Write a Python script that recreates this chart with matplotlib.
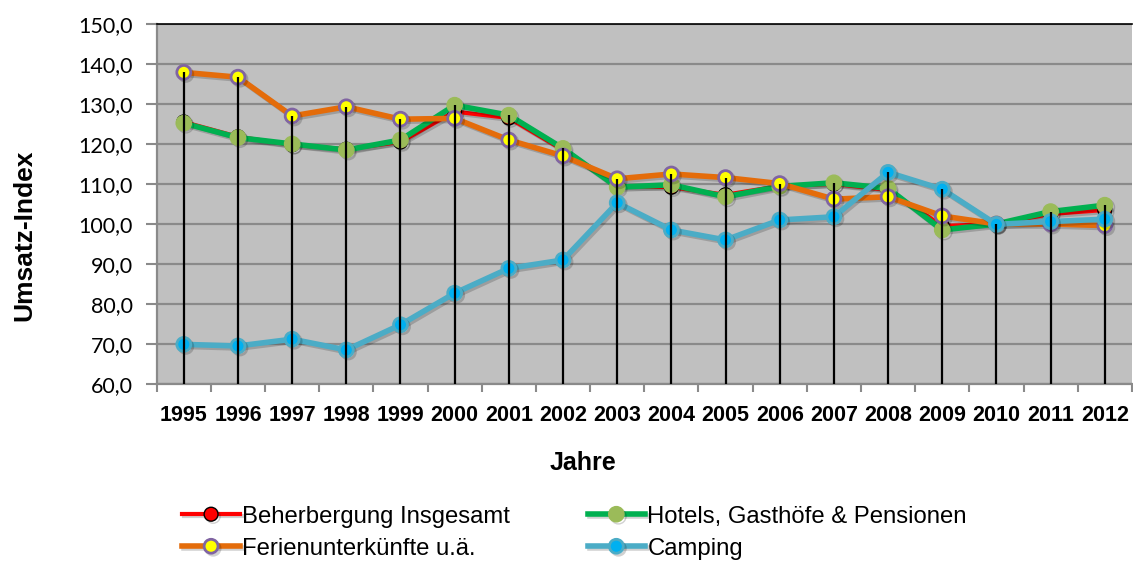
import matplotlib
matplotlib.use('Agg')
import matplotlib.pyplot as plt
import matplotlib.patheffects as pe
import numpy as np

years = ['1995', '1996', '1997', '1998', '1999', '2000', '2001', '2002', '2003',
         '2004', '2005', '2006', '2007', '2008', '2009', '2010', '2011', '2012']

beherbergung = [125.5, 121.8, 119.8, 118.7, 120.5, 128.1, 126.5, 118.5, 109.5,
                109.2, 107.3, 109.5, 110.0, 108.5, 99.5, 100.0, 102.5, 103.5]
hotels = [125.2, 121.6, 120.0, 118.5, 121.0, 129.7, 127.2, 118.9, 109.2,
          109.8, 106.8, 109.4, 110.3, 108.9, 98.5, 100.0, 103.1, 104.7]
ferien = [137.9, 136.7, 127.0, 129.3, 126.2, 126.4, 121.0, 117.0, 111.3,
          112.5, 111.6, 110.1, 106.2, 106.8, 102.0, 100.0, 100.0, 99.6]
camping = [69.9, 69.5, 71.2, 68.5, 74.8, 82.7, 88.9, 91.0, 105.3,
           98.5, 96.0, 101.0, 101.8, 112.9, 108.7, 99.9, 100.6, 101.2]

x = np.arange(len(years))

fig = plt.figure(figsize=(11.33, 5.63), dpi=100)
ax = fig.add_axes([0.1383, 0.318, 0.8607, 0.6394])
ax.set_facecolor('#C0C0C0')

shadow = [pe.SimpleLineShadow(offset=(1.5, -1.5), alpha=0.18, shadow_color='k'), pe.Normal()]

l1, = ax.plot(x, beherbergung, color='#FF0000', lw=3, marker='o', ms=10,
              mfc='#FF0000', mec='black', mew=1, label='Beherbergung Insgesamt',
              zorder=3, path_effects=shadow)
l2, = ax.plot(x, hotels, color='#00B050', lw=4, marker='o', ms=11,
              mfc='#9BBB59', mec='#9BBB59', mew=1, label='Hotels, Gasthöfe & Pensionen',
              zorder=4, path_effects=shadow)
l3, = ax.plot(x, ferien, color='#E46C0A', lw=4, marker='o', ms=10,
              mfc='#FFFF00', mec='#8064A2', mew=2, label='Ferienunterkünfte u.ä.',
              zorder=5, path_effects=shadow)
l4, = ax.plot(x, camping, color='#4BACC6', lw=4, marker='o', ms=10,
              mfc='#00B0F0', mec='#4BACC6', mew=2, label='Camping',
              zorder=6, path_effects=shadow)

# drop lines from highest point down to the axis
top = np.max([beherbergung, hotels, ferien, camping], axis=0)
ax.vlines(x, 60, top, color='black', lw=1.6, zorder=7)

ax.set_xlim(-0.5, len(years) - 0.5)
ax.set_ylim(60, 150)
ax.set_yticks(np.arange(60, 151, 10))
ax.set_yticklabels([f'{v:.1f}'.replace('.', ',') for v in np.arange(60, 151, 10)],
                   fontsize=15.5, family='Lato')
ax.yaxis.grid(True, color='#8A8A8A', lw=1.6)
ax.set_axisbelow(True)

ax.set_xticks(x)
ax.set_xticklabels(years, fontsize=15.5, fontweight='bold', family='Liberation Sans')
ax.set_xticks(np.arange(-0.5, len(years), 1), minor=True)
ax.tick_params(axis='x', which='major', length=0, pad=15)
ax.tick_params(axis='x', which='minor', length=6, width=1.5, color='#8A8A8A')
ax.tick_params(axis='y', length=8, width=1.5, color='#8A8A8A', pad=9)

for s in ['left', 'bottom']:
    ax.spines[s].set_color('#8A8A8A')
    ax.spines[s].set_linewidth(1.6)
ax.spines['top'].set_color('black')
ax.spines['top'].set_linewidth(1.2)
ax.spines['right'].set_visible(False)

ax.set_ylabel('Umsatz-Index', fontsize=19, fontweight='bold', family='Liberation Sans')
ax.yaxis.set_label_coords(-0.123, 0.414)
ax.set_xlabel('Jahre', fontsize=18, fontweight='bold', family='Liberation Sans')
ax.xaxis.set_label_coords(0.437, -0.185)

fig.legend(handles=[l1, l3, l2, l4], ncol=2, loc='upper left',
           bbox_to_anchor=(0.161, 0.102), frameon=False,
           prop={'family': 'Liberation Sans', 'size': 17.2},
           handlelength=2.4, handletextpad=0.1, columnspacing=3.25,
           labelspacing=0.42, borderpad=0, borderaxespad=0)

fig.savefig('out.png', dpi=100)
